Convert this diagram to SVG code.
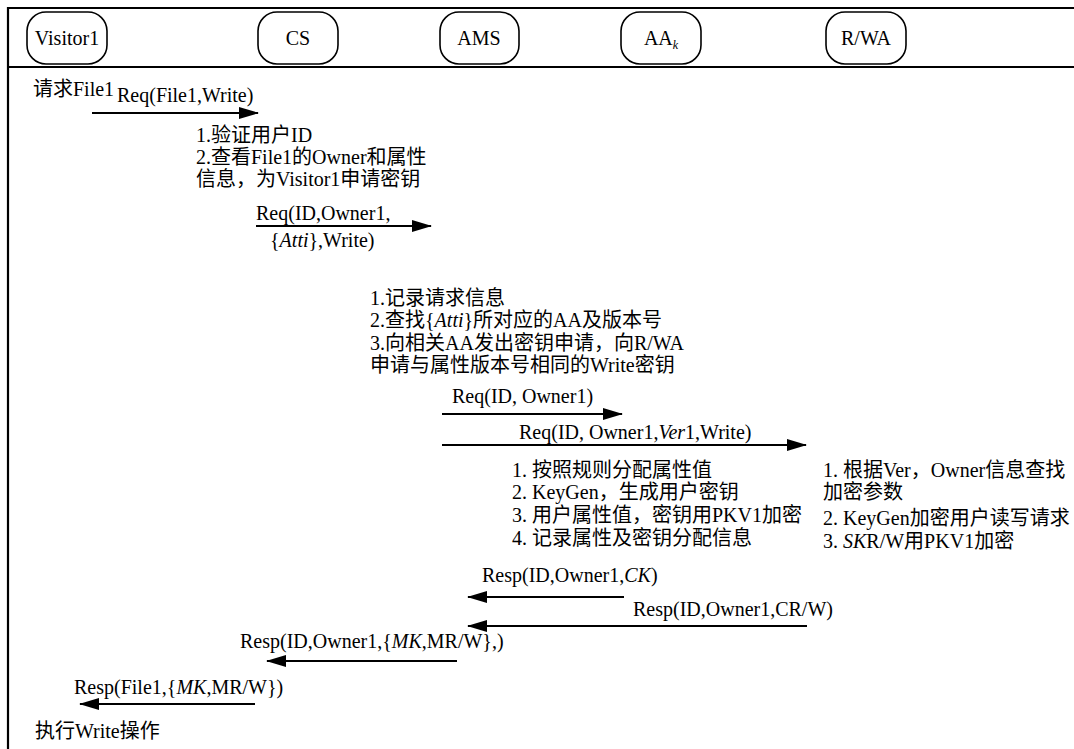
<svg xmlns="http://www.w3.org/2000/svg" width="1074" height="749" viewBox="0 0 1074 749">
<defs>
<style>
text{font-family:"Liberation Serif","Noto Sans CJK SC",serif;font-size:20px;fill:#000}
.node rect{fill:#fff;stroke:#000;stroke-width:1.6}
.node text{text-anchor:middle}
.msg{stroke:#000;stroke-width:2;fill:none}
.r{marker-end:url(#ah)}
.i{font-style:italic}
.frame{stroke:#000;stroke-width:2.2;fill:none}
</style>
<marker id="ah" markerWidth="21" markerHeight="13" refX="19" refY="6" orient="auto" markerUnits="userSpaceOnUse">
<path d="M0,0 L20,6 L0,12 z" fill="#000"/>
</marker>
</defs>
<rect width="1074" height="749" fill="#fff"/>
<path class="frame" d="M8,749 V8 H1074 M8,67 H1074"/>
<g id="visitor1" class="node"><rect x="27" y="12" width="80" height="52" rx="19"/><text x="67" y="45">Visitor1</text></g>
<g id="cs" class="node"><rect x="258" y="12" width="80" height="52" rx="19"/><text x="298" y="45">CS</text></g>
<g id="ams" class="node"><rect x="440" y="12" width="79" height="52" rx="19"/><text x="479" y="45">AMS</text></g>
<g id="aak" class="node"><rect x="621" y="12" width="80" height="52" rx="19"/><text x="661" y="45">AA<tspan class="i" font-size="12" dy="4">k</tspan></text></g>
<g id="rwa" class="node"><rect x="826" y="12" width="80" height="52" rx="19"/><text x="866" y="45">R/WA</text></g>
<g id="connectors">
<line class="msg r" x1="92" y1="113" x2="258" y2="113"/>
<line class="msg r" x1="256" y1="226" x2="431" y2="226"/>
<line class="msg r" x1="442" y1="414" x2="622" y2="414"/>
<line class="msg r" x1="442" y1="445" x2="806" y2="445"/>
<line class="msg r" x1="624" y1="597" x2="468" y2="597"/>
<line class="msg r" x1="807" y1="626" x2="468" y2="626"/>
<line class="msg r" x1="457" y1="661" x2="267" y2="661"/>
<line class="msg r" x1="255" y1="704" x2="80" y2="704"/>
</g>
<g id="labels">
<text x="33" y="96">请求File1</text>
<text x="117" y="102">Req(File1,Write)</text>
<text x="196" y="142">1.验证用户ID</text>
<text x="196" y="164">2.查看File1的Owner和属性</text>
<text x="196" y="186">信息，为Visitor1申请密钥</text>
<text x="256" y="220">Req(ID,Owner1,</text>
<text x="270" y="247">{<tspan class="i">Atti</tspan>},Write)</text>
<text x="370" y="305">1.记录请求信息</text>
<text x="370" y="327">2.查找{<tspan class="i">Atti</tspan>}所对应的AA及版本号</text>
<text x="370" y="350">3.向相关AA发出密钥申请，向R/WA</text>
<text x="370" y="372">申请与属性版本号相同的Write密钥</text>
<text x="452" y="403">Req(ID, Owner1)</text>
<text x="519" y="439">Req(ID, Owner1,<tspan class="i">Ver</tspan>1,Write)</text>
<text x="512" y="477">1. 按照规则分配属性值</text>
<text x="512" y="499">2. KeyGen，生成用户密钥</text>
<text x="512" y="522">3. 用户属性值，密钥用PKV1加密</text>
<text x="512" y="545">4. 记录属性及密钥分配信息</text>
<text x="823" y="477">1. 根据Ver，Owner信息查找</text>
<text x="823" y="499">加密参数</text>
<text x="823" y="525">2. KeyGen加密用户读写请求</text>
<text x="823" y="548">3. <tspan class="i">SK</tspan>R/W用PKV1加密</text>
<text x="482" y="582">Resp(ID,Owner1,<tspan class="i">CK</tspan>)</text>
<text x="633" y="616">Resp(ID,Owner1,CR/W)</text>
<text x="240" y="648">Resp(ID,Owner1,{<tspan class="i">MK</tspan>,MR/W},)</text>
<text x="74" y="694">Resp(File1,{<tspan class="i">MK</tspan>,MR/W})</text>
<text x="35" y="738">执行Write操作</text>
</g>
</svg>
